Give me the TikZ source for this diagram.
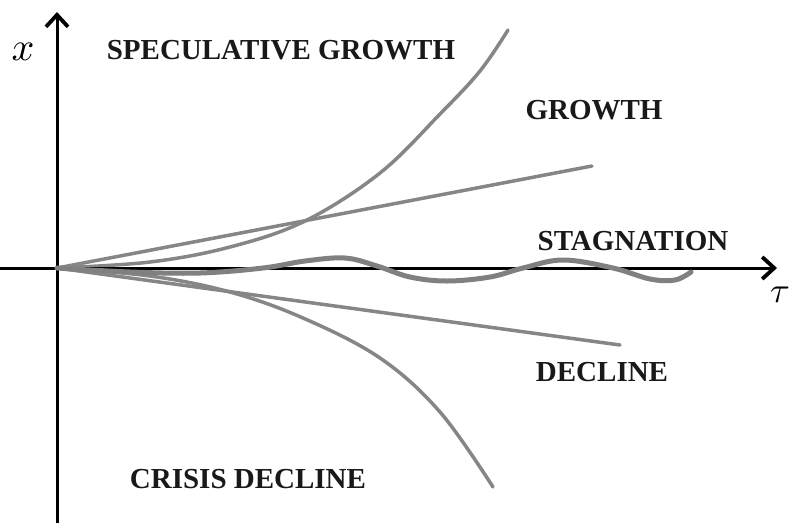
\documentclass[tikz,border=0pt]{standalone}
\usepackage{fontspec}
\setmainfont{Liberation Serif}
\usetikzlibrary{arrows.meta}
\begin{document}
\begin{tikzpicture}[x=1pt,y=-1pt,
  axis/.style={line width=3pt,black,-{Straight Barb[length=12pt,width=22pt,line width=3.8pt]}},
  curve/.style={line width=3.5pt,gray!95,line cap=round},
  wavy/.style={line width=5pt,gray,line cap=round},
  lab/.style={font=\fontsize{29}{29}\selectfont\bfseries,text=black!90,inner sep=0pt},
  sym/.style={inner sep=0pt}]
\useasboundingbox (0,0) rectangle (791,523);
\coordinate (O) at (57,268);
\coordinate (xs) at (0,268);
\coordinate (xe) at (777,268);
\coordinate (ys) at (57,523);
\coordinate (ye) at (57,12);
\coordinate (gEnd) at (592,166);
\coordinate (dEnd) at (620,345);
\coordinate (sEnd) at (508,30);
\coordinate (cEnd) at (493,487);
% curves
\draw[curve] (O) -- (gEnd);
\draw[curve] (O) -- (dEnd);
\draw[curve] plot[smooth,tension=0.6] coordinates {(O) (150,262) (230,247) (305,221) (380,173) (440,114) (480,71) (sEnd)};
\draw[curve] plot[smooth,tension=0.6] coordinates {(O) (150,276) (230,292) (303,318) (380,358) (440,412) (cEnd)};
% axes
\draw[axis] (xs) -- (xe);
\draw[axis] (ys) -- (ye);
% stagnation
\draw[wavy] plot[smooth,tension=0.6] coordinates {(O) (130,272) (200,273) (263,268) (305,261) (345,258) (377,266) (410,277) (447,281) (490,277) (523,268) (563,260) (613,268) (650,279) (675,280) (691,272)};
% labels
\node[sym] (xl) at (23,52) {\scalebox{4}{$x$}};
\node[sym,anchor=east] (tl) at (790,295) {\scalebox{3.6}{$\tau$}};
\node[lab] (sg) at (281,50) {SPECULATIVE GROWTH};
\node[lab] (gr) at (594,110) {GROWTH};
\node[lab] (st) at (633,241) {STAGNATION};
\node[lab] (de) at (602,372) {DECLINE};
\node[lab] (cd) at (248,479) {CRISIS DECLINE};
\end{tikzpicture}
\end{document}
